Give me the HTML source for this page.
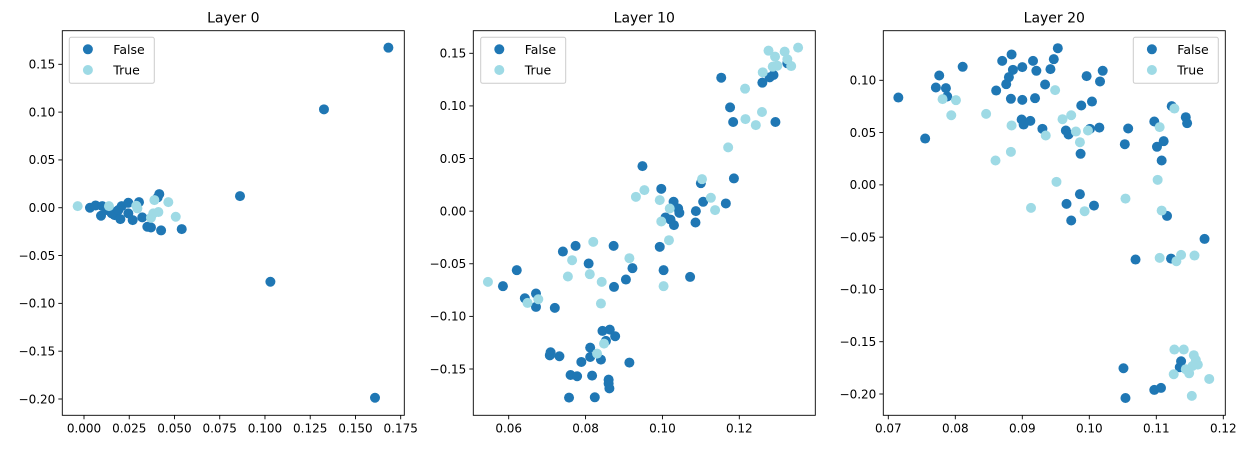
<!DOCTYPE html>
<html><head><meta charset="utf-8"><style>
body{margin:0;background:#fff;width:1248px;height:449px;overflow:hidden}
svg{display:block;font-family:"DejaVu Sans","Liberation Sans",sans-serif}
</style></head><body>
<svg id="chart" width="1248" height="449" viewBox="0 0 1248 449"></svg>
<script>
// Layer 0 data
const l0FalseX=[0.1682,0.1326,0.0862,0.1030,0.1608,0.0033,0.0064,0.0101,0.0094,0.0125,0.0169,0.0177,0.0201,0.0208,0.0245,0.0245,0.0269,0.0304,0.0322,0.0350,0.0370,0.0407,0.0416,0.0426,0.0540,0.0153,0.0190];
const l0FalseY=[0.1674,0.1029,0.0122,-0.0774,-0.1987,0,0.0024,0.0017,-0.0084,-0.0024,-0.0077,-0.0042,-0.0119,0.0017,0.0052,-0.0059,-0.0129,0.0059,-0.0101,-0.0199,-0.0206,0.0108,0.0143,-0.0237,-0.0223,-0.0059,-0.0024];
const l0TrueX=[-0.0035,0.0138,0.0295,0.0289,0.0370,0.0383,0.0411,0.0389,0.0466,0.0507];
const l0TrueY=[0.0017,0.0017,-0.0007,0.0021,-0.0105,-0.0059,-0.0045,0.0080,0.0059,-0.0094];
// Layer 10 data
const l10FalseX=[0.1325,0.1289,0.1279,0.1260,0.1153,0.1176,0.1184,0.1294,0.0948,0.1186,0.1100,0.0997,0.1029,0.1106,0.1165,0.1041,0.1044,0.1087,0.1008,0.1021,0.1030,0.1086,0.0993,0.1003,0.1072,0.0922,0.0905,0.0874,0.0873,0.0774,0.0741,0.0808,0.0621,0.0585,0.0642,0.0671,0.0671,0.0720,0.0844,0.0863,0.0877,0.0853,0.0812,0.0709,0.0707,0.0732,0.0812,0.0840,0.0789,0.0914,0.0761,0.0778,0.0817,0.0860,0.0860,0.0862,0.0757,0.0824];
const l10FalseY=[0.1405,0.1294,0.1271,0.1221,0.1268,0.0986,0.0847,0.0847,0.0428,0.0311,0.0266,0.0212,0.0089,0.0089,0.0073,0.0025,-0.0016,0.0,-0.006,-0.008,-0.0133,-0.0108,-0.0339,-0.0561,-0.0625,-0.0542,-0.065,-0.072,-0.033,-0.033,-0.0384,-0.0498,-0.0561,-0.0713,-0.0828,-0.0783,-0.0910,-0.0919,-0.1138,-0.1126,-0.1189,-0.1233,-0.1297,-0.1341,-0.1370,-0.1379,-0.1386,-0.1411,-0.1433,-0.1439,-0.1557,-0.1569,-0.1563,-0.1601,-0.1639,-0.1684,-0.1772,-0.1769];
const l10TrueX=[0.1353,0.1276,0.1318,0.1293,0.1325,0.1335,0.1287,0.1299,0.1261,0.1215,0.1259,0.1216,0.1243,0.1171,0.1103,0.0931,0.0953,0.0993,0.1126,0.1137,0.1019,0.0997,0.1017,0.1003,0.0914,0.0820,0.0765,0.0811,0.0754,0.0842,0.0840,0.0546,0.0649,0.0677,0.0848,0.0830];
const l10TrueY=[0.1554,0.1525,0.1516,0.1468,0.1443,0.1379,0.1373,0.1382,0.1319,0.1164,0.0942,0.0875,0.0818,0.0606,0.0304,0.0136,0.0200,0.0105,0.0127,0.0010,0.0025,-0.0098,-0.0276,-0.0713,-0.0447,-0.0292,-0.0466,-0.0599,-0.0621,-0.0672,-0.0878,-0.0672,-0.0872,-0.0837,-0.1259,-0.1354];
// Layer 20 data
const l20FalseX=[0.0715,0.0755,0.0776,0.0771,0.0786,0.0788,0.0811,0.0870,0.0884,0.0886,0.0880,0.0876,0.0861,0.0883,0.0900,0.0916,0.0921,0.0900,0.0919,0.0899,0.0902,0.0912,0.0934,0.0942,0.0947,0.0953,0.0930,0.0965,0.0969,0.0987,0.0988,0.0996,0.1004,0.1001,0.1015,0.1016,0.1020,0.0986,0.0966,0.1007,0.0973,0.1058,0.1053,0.1097,0.1123,0.1144,0.1146,0.1111,0.1101,0.1108,0.1116,0.1172,0.1069,0.1122,0.1137,0.1135,0.1051,0.1097,0.1107,0.1054];
const l20FalseY=[0.0835,0.0443,0.1046,0.0931,0.0925,0.0845,0.1129,0.1186,0.1247,0.1100,0.1030,0.0963,0.0902,0.0823,0.1126,0.1186,0.1091,0.0813,0.0829,0.0625,0.0577,0.0612,0.0960,0.1107,0.1202,0.1307,0.0536,0.0520,0.0482,0.0297,0.0759,0.1040,0.0797,0.0536,0.0548,0.0989,0.1091,-0.0089,-0.0182,-0.0198,-0.0341,0.0539,0.0389,0.0606,0.0753,0.0647,0.0590,0.0418,0.0364,0.0233,-0.0297,-0.0517,-0.0714,-0.0705,-0.1687,-0.1744,-0.1754,-0.1961,-0.1942,-0.2038];
const l20TrueX=[0.0781,0.0801,0.0794,0.0846,0.0860,0.0883,0.0884,0.0949,0.0935,0.0960,0.0973,0.0980,0.0986,0.0998,0.0951,0.0993,0.0913,0.1054,0.1105,0.1127,0.1102,0.1108,0.1105,0.1130,0.1137,0.1157,0.1127,0.1141,0.1156,0.1159,0.1144,0.1162,0.1154,0.1149,0.1126,0.1179,0.1153];
const l20TrueY=[0.0820,0.0810,0.0666,0.0679,0.0233,0.0316,0.0568,0.0906,0.0472,0.0628,0.0666,0.0510,0.0408,0.0520,0.0029,-0.0252,-0.0220,-0.0131,0.0552,0.0730,0.0048,-0.0246,-0.0698,-0.0730,-0.0670,-0.0676,-0.1575,-0.1575,-0.1629,-0.1674,-0.1763,-0.1719,-0.1732,-0.1802,-0.1811,-0.1856,-0.2018];
// tick labels
const l0XTicks=[0,0.025,0.05,0.075,0.1,0.125,0.15,0.175];
const l0XLabels=["0.000","0.025","0.050","0.075","0.100","0.125","0.150","0.175"];
const l0YTicks=[0.15,0.1,0.05,0,-0.05,-0.1,-0.15,-0.2];
const l0YLabels=["0.15","0.10","0.05","0.00","−0.05","−0.10","−0.15","−0.20"];
const l10XTicks=[0.06,0.08,0.1,0.12];
const l10XLabels=["0.06","0.08","0.10","0.12"];
const l10YTicks=[0.15,0.1,0.05,0,-0.05,-0.1,-0.15];
const l10YLabels=["0.15","0.10","0.05","0.00","−0.05","−0.10","−0.15"];
const l20XTicks=[0.07,0.08,0.09,0.1,0.11,0.12];
const l20XLabels=["0.07","0.08","0.09","0.10","0.11","0.12"];
const l20YTicks=[0.1,0.05,0,-0.05,-0.1,-0.15,-0.2];
const l20YLabels=["0.10","0.05","0.00","−0.05","−0.10","−0.15","−0.20"];

const NS="http://www.w3.org/2000/svg";
const svg=document.getElementById('chart');
function mk(tag,attrs,parent){const e=document.createElementNS(NS,tag);for(const k in attrs)e.setAttribute(k,attrs[k]);(parent||svg).appendChild(e);return e;}
function lin(d0,d1,p0,p1){return v=>p0+(v-d0)*(p1-p0)/(d1-d0);}
const C_F="#1f77b4",C_T="#9edae5";

function panel(o){
  const g=mk('g',{});
  
  
  const sx=lin(o.xd[0],o.xd[1],o.xp[0],o.xp[1]);
  const sy=lin(o.yd[0],o.yd[1],o.yp[0],o.yp[1]);
  const [L,R,T,B]=o.frame;
  const clip=mk('clipPath',{id:'clip-'+o.name},g);
  mk('rect',{x:L,y:T,width:R-L,height:B-T},clip);
  const pts=mk('g',{'clip-path':'url(#clip-'+o.name+')'},g);
  o.fx.forEach((v,i)=>{const c=mk('circle',{cx:sx(v),cy:sy(o.fy[i]),r:5,fill:C_F},pts);
    
    });
  o.tx.forEach((v,i)=>{const c=mk('circle',{cx:sx(v),cy:sy(o.ty[i]),r:5,fill:C_T},pts);
    
    });
  const fr=mk('rect',{x:L,y:T,width:R-L,height:B-T,fill:'none',stroke:'#000','stroke-width':0.9},g);
  
  
  o.xt.forEach((v,i)=>{const x=sx(v);
    mk('line',{x1:x,x2:x,y1:B,y2:B+4,stroke:'#000','stroke-width':0.9},g);
    const t=mk('text',{x:x,y:B+17,'font-size':12,'text-anchor':'middle',fill:'#000'},g);
    t.textContent=o.xl[i];
    
    });
  o.yt.forEach((v,i)=>{const y=sy(v);
    mk('line',{x1:L-4,x2:L,y1:y,y2:y,stroke:'#000','stroke-width':0.9},g);
    const t=mk('text',{x:L-7,y:y+4.3,'font-size':12,'text-anchor':'end',fill:'#000'},g);
    t.textContent=o.yl[i];
    
    });
  const ti=mk('text',{x:(L+R)/2,y:T-8,'font-size':14,'text-anchor':'middle',fill:'#000'},g);
  ti.textContent=o.title;
  
  
  const lg=mk('g',{},g);
  
  
  const lx=o.legX;
  mk('rect',{x:lx,y:37.3,width:85,height:46,rx:2,fill:'#fff','fill-opacity':0.8,stroke:'#ccc','stroke-width':1},lg);
  [["False",C_F,49.3],["True",C_T,70]].forEach(([lab,col,y])=>{
    const c=mk('circle',{cx:lx+18.6,cy:y,r:5,fill:col},lg);
    
    
    const t=mk('text',{x:lx+44,y:y+4.5,'font-size':12.5,fill:'#000'},lg);
    t.textContent=lab;
    
    
  });
}
panel({name:'layer-0-panel',title:'Layer 0',xd:[0,0.175],xp:[84,400.7],yd:[0.15,-0.2],yp:[64.3,399],frame:[62.3,404.3,30.7,415.3],
  fx:l0FalseX,fy:l0FalseY,tx:l0TrueX,ty:l0TrueY,xt:l0XTicks,xl:l0XLabels,yt:l0YTicks,yl:l0YLabels,legX:69.3});
panel({name:'layer-10-panel',title:'Layer 10',xd:[0.06,0.12],xp:[508.7,739.3],yd:[0.15,-0.15],yp:[53.3,369],frame:[473.3,815.3,30.7,415.3],
  fx:l10FalseX,fy:l10FalseY,tx:l10TrueX,ty:l10TrueY,xt:l10XTicks,xl:l10XLabels,yt:l10YTicks,yl:l10YLabels,legX:480.7});
panel({name:'layer-20-panel',title:'Layer 20',xd:[0.08,0.12],xp:[955.3,1223.3],yd:[0.1,-0.2],yp:[80.3,394],frame:[883.3,1225.3,30.7,415.3],
  fx:l20FalseX,fy:l20FalseY,tx:l20TrueX,ty:l20TrueY,xt:l20XTicks,xl:l20XLabels,yt:l20YTicks,yl:l20YLabels,legX:1133.3});
</script>
</body></html>
